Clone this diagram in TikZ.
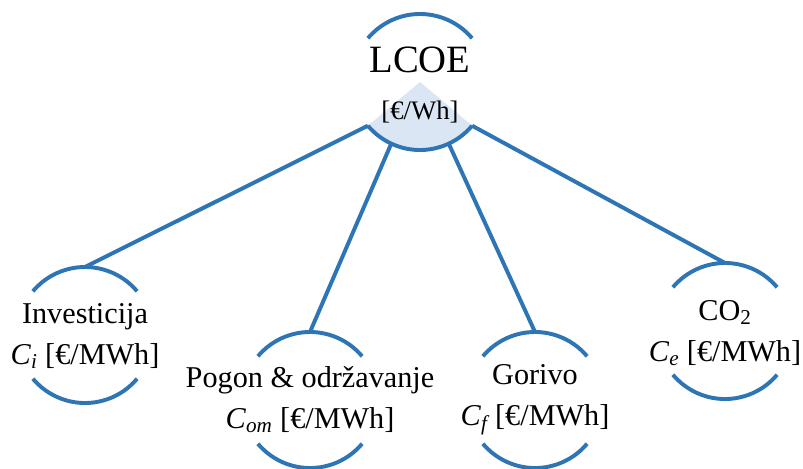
\documentclass[tikz,border=0pt]{standalone}
\usepackage{fontspec}
\setmainfont{Liberation Serif}
\newcommand{\costsym}[2]{\textit{#1}\textsubscript{\textit{#2}}}
\definecolor{arcblue}{RGB}{46,117,182}
\definecolor{sectorblue}{RGB}{218,230,243}

\begin{document}
\begin{tikzpicture}[
    x=0.025cm, y=-0.025cm,
    ring/.style={circle, minimum size=3.4cm, inner sep=0pt, outer sep=0pt},
    label/.style={align=center, font=\fontsize{21.5}{29}\selectfont},
    arcline/.style={draw=arcblue, line width=2.8pt},
    link/.style={draw=arcblue, line width=2.8pt}
]
    \useasboundingbox (0,0) rectangle (803,468);

    % Top: LCOE
    \node[ring] (top) at (420, 82) {};
    \fill[sectorblue] (top.center) -- (top.-40) arc[start angle=-40, end angle=-140, radius=1.7cm] -- cycle;
    \draw[arcline] (top.40) arc[start angle=40, end angle=140, radius=1.7cm];
    \draw[arcline] (top.-40) arc[start angle=-40, end angle=-140, radius=1.7cm];
    \node[font=\fontsize{27.5}{30}\selectfont] (lcoe) at (420, 60) {LCOE};
    \node[font=\fontsize{19}{22}\selectfont] (lcoeunit) at (420, 112) {[€/Wh]};

    % Bottom row: cost components
    \node[ring] (inv) at (85, 335) {};
    \node[label] (invtext) at (85, 336) {Investicija\\\costsym{C}{i} [€/MWh]};

    \node[ring] (pog) at (310, 400) {};
    \node[label] (pogtext) at (310, 400) {Pogon \& održavanje\\\costsym{C}{om} [€/MWh]};

    \node[ring] (gor) at (535, 400) {};
    \node[label] (gortext) at (535, 400) {Gorivo\\\costsym{C}{f}\,[€/MWh]};

    \node[ring] (co) at (725, 331) {};
    \node[label] (cotext) at (725, 333) {CO\textsubscript{2}\\\costsym{C}{e} [€/MWh]};

    % Arcs round the components
    \draw[arcline] (inv.40) arc[start angle=40, end angle=140, radius=1.7cm];
    \draw[arcline] (inv.-40) arc[start angle=-40, end angle=-140, radius=1.7cm];
    \draw[arcline] (pog.40) arc[start angle=40, end angle=140, radius=1.7cm];
    \draw[arcline] (pog.-40) arc[start angle=-40, end angle=-140, radius=1.7cm];
    \draw[arcline] (gor.40) arc[start angle=40, end angle=140, radius=1.7cm];
    \draw[arcline] (gor.-40) arc[start angle=-40, end angle=-140, radius=1.7cm];
    \draw[arcline] (co.40) arc[start angle=40, end angle=140, radius=1.7cm];
    \draw[arcline] (co.-40) arc[start angle=-40, end angle=-140, radius=1.7cm];

    % Links from LCOE
    \draw[link] (top.-140) -- (inv.north);
    \draw[link] (top.-115) -- (pog.north);
    \draw[link] (top.-65) -- (gor.north);
    \draw[link] (top.-40) -- (co.north);
\end{tikzpicture}
\end{document}
